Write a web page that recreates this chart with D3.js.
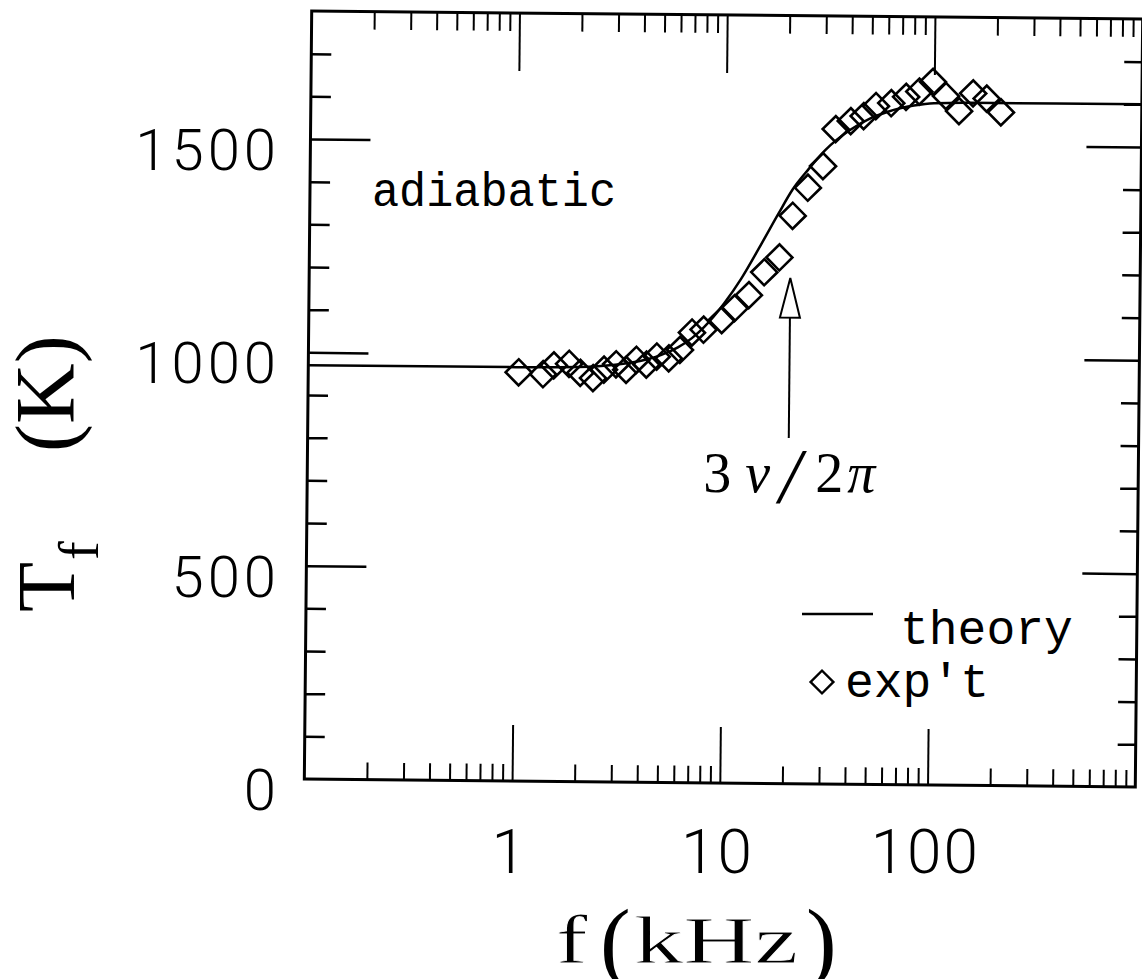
<!DOCTYPE html>
<html>
<head>
<meta charset="utf-8">
<script src="https://cdn.jsdelivr.net/npm/d3@7"></script>
<style>
  body { margin: 0; background: #fff; }
</style>
</head>
<body>
<div id="chart"></div>
<script>
// measured points (f in kHz, T_f in K)
var expFreq = [1.03, 1.35, 1.52, 1.80, 2.04, 2.35, 2.65, 3.03, 3.39, 3.79, 4.24, 4.75, 5.43, 6.14,
               7.0, 7.96, 9.73, 11.2, 13.1, 15.5, 18.3, 21.1, 24.9, 29.4, 33.7, 39.8, 45.9,
               52.5, 62.2, 73.3, 84.8, 98.5, 114, 132, 154, 179, 210];
var expTemp = [958, 954, 975, 979, 958, 946, 966, 979, 966, 990, 979, 998, 994, 1014,
               1055, 1062, 1085, 1113, 1144, 1198, 1233, 1331, 1397, 1448, 1535, 1554, 1566,
               1590, 1597, 1612, 1625, 1648, 1615, 1580, 1622, 1610, 1578];

// theory curve
var theoryFreq = [0.1, 1, 2, 3, 4, 5, 6, 7, 8, 10, 12, 15, 18, 21, 25, 30, 40, 50, 60, 80, 100, 150, 1000];
var theoryTemp = [970, 970, 972, 978, 988, 1002, 1020, 1042, 1068, 1125, 1182, 1265, 1335, 1392, 1440,
                  1485, 1535, 1562, 1577, 1592, 1598, 1600, 1600];

var xLabels = [1, 10, 100];
var yLabels = [0, 500, 1000, 1500];

// arrow marking 3nu/2pi
var arrowFreq = 20.7, arrowTip = 1185, arrowHead = 1092, arrowTail = 810;

var W = 1142, H = 979;
var pL = 308, pR = 1139, pT = 15, pB = 783;

var svg = d3.select("#chart").append("svg")
    .attr("width", W)
    .attr("height", H);

var x = d3.scaleLog().domain([0.1, 1000]).range([pL, pR]);
var y = d3.scaleLinear().domain([0, 1800]).range([pB, pT]);

// the scanned figure is slightly tilted
var plot = svg.append("g")
    .attr("transform", "rotate(0.55," + (pL + pR) / 2 + "," + (pT + pB) / 2 + ")");

var xMinor = [];
[0.1, 1, 10, 100].forEach(function(d) {
  for (var k = 2; k <= 9; k++) xMinor.push(d * k);
});
var yMinor = d3.range(100, 1800, 100).filter(function(v) { return v % 500 != 0; });
var yMajor = [500, 1000, 1500];

function tickAxis(axis, tr, sw) {
  var g = plot.append("g").attr("transform", tr).call(axis);
  g.select(".domain").remove();
  g.selectAll("text").remove();
  g.selectAll("line").attr("stroke", "#000").attr("stroke-width", sw || 2);
  return g;
}

// bottom and top ticks
tickAxis(d3.axisBottom(x).tickValues(xMinor).tickSize(-17), "translate(0," + pB + ")");
tickAxis(d3.axisBottom(x).tickValues(xLabels).tickSize(-56), "translate(0," + pB + ")");
tickAxis(d3.axisTop(x).tickValues(xMinor).tickSize(-18), "translate(0," + pT + ")");
tickAxis(d3.axisTop(x).tickValues(xLabels).tickSize(-58), "translate(0," + pT + ")");
// left and right ticks
tickAxis(d3.axisLeft(y).tickValues(yMinor).tickSize(-20), "translate(" + pL + ",0)", 2.5);
tickAxis(d3.axisLeft(y).tickValues(yMajor).tickSize(-60), "translate(" + pL + ",0)", 2.5);
tickAxis(d3.axisRight(y).tickValues(yMinor).tickSize(-18), "translate(" + pR + ",0)", 2.5);
tickAxis(d3.axisRight(y).tickValues(yMajor).tickSize(-55), "translate(" + pR + ",0)", 2.5);

// frame
plot.append("rect")
    .attr("x", pL).attr("y", pT)
    .attr("width", pR - pL).attr("height", pB - pT)
    .attr("fill", "none").attr("stroke", "#000").attr("stroke-width", 3);

// theory line
var theory = theoryFreq.map(function(f, i) { return [f, theoryTemp[i]]; });
var line = d3.line()
    .x(function(d) { return x(d[0]); })
    .y(function(d) { return y(d[1]); })
    .curve(d3.curveMonotoneX);
plot.append("path")
    .datum(theory)
    .attr("d", line)
    .attr("fill", "none")
    .attr("stroke", "#000")
    .attr("stroke-width", 2.5);

// experimental diamonds
var diamond = d3.symbol().type(d3.symbolSquare).size(340);
plot.append("g")
  .selectAll("path")
  .data(expFreq.map(function(f, i) { return [f, expTemp[i]]; }))
  .enter()
  .append("path")
    .attr("d", diamond)
    .attr("transform", function(d) {
      return "translate(" + x(d[0]) + "," + y(d[1]) + ") rotate(45)";
    })
    .attr("fill", "none")
    .attr("stroke", "#000")
    .attr("stroke-width", 2.6);

// arrow
var ax = x(arrowFreq);
plot.append("line")
    .attr("x1", ax).attr("x2", ax)
    .attr("y1", y(arrowTail)).attr("y2", y(arrowHead))
    .attr("stroke", "#000").attr("stroke-width", 2);
plot.append("path")
    .attr("d", "M" + ax + "," + y(arrowTip) + "L" + (ax - 10) + "," + y(arrowHead) +
               "L" + (ax + 10) + "," + y(arrowHead) + "Z")
    .attr("fill", "#fff").attr("stroke", "#000").attr("stroke-width", 2);

// annotation text
var mono = "'Liberation Mono', 'Courier New', monospace";
var serif = "'Liberation Serif', 'Times New Roman', serif";
var sans = "Roboto, 'Liberation Sans', sans-serif";

svg.append("text")
    .attr("x", 372).attr("y", 206)
    .attr("textLength", 244).attr("lengthAdjust", "spacingAndGlyphs")
    .style("font-family", mono).style("font-size", "48px")
    .text("adiabatic");

// 3 nu / 2 pi, glyphs spread out like the plotter font
var lab = svg.append("text")
    .attr("y", 492)
    .style("font-family", serif).style("font-size", "56px");
lab.append("tspan").attr("x", ax - 86).text("3");
lab.append("tspan").attr("x", ax - 44).style("font-style", "italic").text("ν");
lab.append("tspan").attr("x", ax - 10).attr("dy", 10)
    .style("font-size", "78px").style("font-style", "italic").text("/");
lab.append("tspan").attr("x", ax + 26).attr("dy", -10).text("2");
lab.append("tspan").attr("x", ax + 58).style("font-style", "italic").text("π");

// legend
svg.append("line")
    .attr("x1", 802).attr("x2", 873).attr("y1", 614).attr("y2", 614)
    .attr("stroke", "#000").attr("stroke-width", 2.5);
svg.append("text")
    .attr("x", 900).attr("y", 644)
    .style("font-family", mono).style("font-size", "48px")
    .text("theory");
svg.append("path")
    .attr("d", d3.symbol().type(d3.symbolSquare).size(260))
    .attr("transform", "translate(822,682) rotate(45)")
    .attr("fill", "none").attr("stroke", "#000").attr("stroke-width", 2.4);
svg.append("text")
    .attr("x", 845).attr("y", 697)
    .style("font-family", mono).style("font-size", "48px")
    .text("exp't");

// tick labels
svg.append("g")
  .selectAll("text")
  .data(yLabels)
  .enter()
  .append("text")
    .attr("x", 280)
    .attr("y", function(d) { return y(d) + 6; })
    .attr("dy", "0.36em")
    .attr("text-anchor", "end")
    .style("font-family", sans).style("font-weight", 300)
    .style("font-size", "58px").style("letter-spacing", "4px")
    .text(function(d) { return d; });

svg.append("g")
  .selectAll("text")
  .data(xLabels)
  .enter()
  .append("text")
    .attr("x", function(d) { return x(d) - 6; })
    .attr("y", 873)
    .attr("text-anchor", "middle")
    .style("font-family", sans).style("font-weight", 300)
    .style("font-size", "62px").style("letter-spacing", "2px")
    .text(function(d) { return d; });

// x axis title: f (kHz), wide letters
var xt = svg.append("g").style("font-family", serif);
xt.append("text")
    .attr("transform", "translate(556,963) scale(1.35,1)")
    .style("font-size", "70px")
    .style("stroke", "#fff").style("stroke-width", 0.8)
    .text("f");
xt.append("text").attr("x", 600).attr("y", 972)
    .style("font-size", "92px").text("(");
xt.append("text")
    .attr("transform", "translate(634,963) scale(1.45,1)")
    .style("font-size", "68px")
    .style("stroke", "#fff").style("stroke-width", 0.8)
    .text("kHz");
xt.append("text").attr("x", 806).attr("y", 972)
    .style("font-size", "92px").text(")");

// y axis title: T_f (K)
var yt = svg.append("g")
    .attr("transform", "translate(74,612) rotate(-90)")
    .style("font-family", serif);
yt.append("text").attr("x", 0).attr("y", 0)
    .style("font-size", "82px").text("T");
yt.append("text").attr("x", 52).attr("y", 24)
    .style("font-size", "56px").text("f");
yt.append("text").attr("x", 160).attr("y", 0)
    .style("font-size", "84px").text("(K)");
</script>
</body>
</html>
